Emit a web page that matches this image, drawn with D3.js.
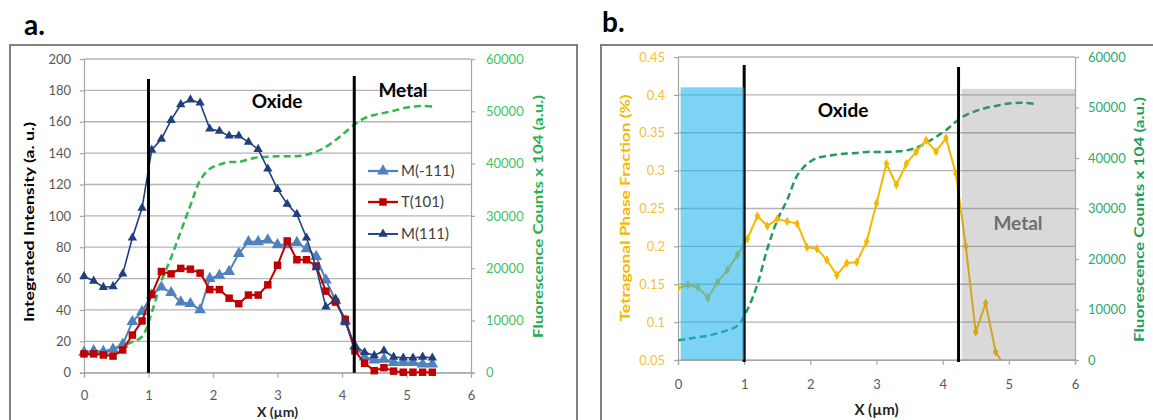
<!DOCTYPE html>
<html><head><meta charset="utf-8">
<script src="https://cdn.jsdelivr.net/npm/d3@7/dist/d3.min.js"></script>
<style>
body{margin:0;background:#fff}
svg{display:block}
text{font-family:Lato,"Open Sans",sans-serif}
</style>
</head><body>
<svg id="c" width="1153" height="420"></svg>
<script>
// ---------- DATA ----------
const xPos = [0,0.15,0.3,0.45,0.6,0.75,0.9,1.05,1.2,1.35,1.5,1.65,1.8,1.95,2.1,2.25,2.4,2.55,2.7,2.85,3.0,3.15,3.3,3.45,3.6,3.75,3.9,4.05,4.2,4.35,4.5,4.65,4.8,4.95,5.1,5.25,5.4];
const m111 = [61.5,58.5,54.5,55,63,86,105,142,149,161,171,174,172,155.5,154,151,151,147,142.5,130,117,107.5,101,86,67,42,47,32,17,13,11,14,10,9.5,9.5,10,9.5];
const mNeg111 = [13,14,13.5,15,18,32.5,39,49.5,54.5,51,45,44,40,60,62,64.5,76,83.5,83.5,84.5,81.5,81.5,83,79,74,59,46,33,17,10,8,8.5,6.5,6.5,6.5,5.5,5.5];
const t101 = [12,12,11.3,10.6,14.5,24,33,50,64.5,63,66.5,66,63.5,53,53,47.5,44,49.5,49.5,56,68.5,84,72,72,68,52,45,34,14,6,1.3,3.2,1,0.3,0.3,0.3,0.3];
const fluorA = [3700,3900,4000,4500,5100,5900,6900,11500,17500,22000,27000,32000,36800,39000,39800,40300,40300,40800,41200,41300,41400,41400,41400,41700,42300,43200,44500,46000,47500,48700,49300,49700,50100,50600,50900,51000,50900];
const fluorB = [3900,4200,4500,4800,5300,5900,6800,10000,15000,22000,27700,31700,36500,38800,40000,40400,40700,40900,41000,41200,41200,41200,41300,41500,42000,43000,44200,45500,47200,48500,49300,49900,50300,50700,50900,50900,50700];
const tetra = [0.145,0.149,0.146,0.132,0.153,0.169,0.189,0.21,0.24,0.227,0.236,0.233,0.23,0.199,0.197,0.182,0.162,0.178,0.179,0.206,0.257,0.309,0.281,0.309,0.325,0.34,0.325,0.343,0.296,0.2,0.087,0.125,0.061,0.04];
const xTicks = [0,1,2,3,4,5,6];
const aLeftTicks = [0,20,40,60,80,100,120,140,160,180,200];
const fluorTicks = [0,10000,20000,30000,40000,50000,60000];
const bLeftTicks = [0.05,0.1,0.15,0.2,0.25,0.3,0.35,0.4,0.45];
const legendNames = ["M(-111)","T(101)","M(111)"];
const boundA = [1, 4.19];
const boundB = [1, 4.24];
const blueZone = [0.04, 1, 0.41];
const grayZone = [4.29, 6, 0.408];

// ---------- SETUP ----------
const svg = d3.select("#c");
const TICK = "#595959", GRID = "#b4b4b4", AXIS = "#a6a6a6";

function styleAxis(g, color){
  g.selectAll("path.domain").attr("stroke", AXIS).attr("stroke-width",1.2);
  g.selectAll(".tick line").attr("stroke", AXIS).attr("stroke-width",1.2);
  g.selectAll(".tick text").attr("fill", color).attr("font-size", 13).attr("font-family","Lato, sans-serif");
}

// panel frames
svg.append("rect").attr("x",10).attr("y",45).attr("width",567).attr("height",400)
  .attr("fill","none").attr("stroke","#808080").attr("stroke-width",2);
svg.append("rect").attr("x",601).attr("y",45).attr("width",600).attr("height",400)
  .attr("fill","none").attr("stroke","#808080").attr("stroke-width",2);
svg.append("text").attr("x",24).attr("y",35).attr("font-size",28).attr("font-weight","bold").text("a.");
svg.append("text").attr("x",602).attr("y",32).attr("font-size",28).attr("font-weight","bold").text("b.");

// ---------- PANEL A ----------
const xA = d3.scaleLinear([0,6],[84,471]);
const yA = d3.scaleLinear([0,200],[372.7,59]);
const yA2 = d3.scaleLinear([0,60000],[372.7,59]);

const gA = svg.append("g");
gA.append("g").selectAll("line").data(aLeftTicks).join("line")
  .attr("x1",xA(0)).attr("x2",xA(6)).attr("y1",d=>yA(d)).attr("y2",d=>yA(d))
  .attr("stroke",GRID).attr("stroke-width",1.3);

gA.append("g").attr("transform",`translate(${xA(0)},0)`)
  .call(d3.axisLeft(yA).tickValues(aLeftTicks).tickSize(4).tickPadding(9)).call(g=>styleAxis(g,TICK));
gA.append("g").attr("transform",`translate(${xA(6)},0)`)
  .call(d3.axisRight(yA2).tickValues(fluorTicks).tickSize(4).tickPadding(11).tickFormat(d3.format("d"))).call(g=>styleAxis(g,"#3ec466"));
gA.append("g").attr("transform",`translate(0,${yA(0)})`)
  .call(d3.axisBottom(xA).tickValues(xTicks).tickSize(5).tickPadding(13).tickFormat(d3.format("d"))).call(g=>styleAxis(g,TICK));

// fluorescence dashed
gA.append("path").datum(xPos.map((x,i)=>[x,fluorA[i]]))
  .attr("d", d3.line().x(d=>xA(d[0])).y(d=>yA2(d[1])).curve(d3.curveCatmullRom))
  .attr("fill","none").attr("stroke","#2fb84e").attr("stroke-width",2.5).attr("stroke-dasharray","7,4");

const tri = d3.symbol().type(d3.symbolTriangle);
const sq = d3.symbol().type(d3.symbolSquare);
const seriesA = [
  {name:legendNames[0], vals:mNeg111, color:"#4f81bd", sym:tri.size(60)(), w:2},
  {name:legendNames[1], vals:t101, color:"#c00000", sym:sq.size(56)(), w:2},
  {name:legendNames[2], vals:m111, color:"#1f3f7f", sym:d3.symbol().type(d3.symbolTriangle).size(38)(), w:1.6}
];
seriesA.forEach(s=>{
  const g = gA.append("g");
  g.append("path").datum(xPos.map((x,i)=>[x,s.vals[i]]))
    .attr("d", d3.line().x(d=>xA(d[0])).y(d=>yA(d[1])))
    .attr("fill","none").attr("stroke",s.color).attr("stroke-width",s.w);
  g.selectAll("path.m").data(xPos.map((x,i)=>[x,s.vals[i]])).join("path").attr("class","m")
    .attr("d",s.sym).attr("transform",d=>`translate(${xA(d[0])},${yA(d[1])})`).attr("fill",s.color);
});

// boundaries
gA.selectAll("line.bd").data(boundA).join("line").attr("class","bd")
  .attr("x1",d=>xA(d)).attr("x2",d=>xA(d)).attr("y1",(d,i)=>i?76:79).attr("y2",yA(0))
  .attr("stroke","#000").attr("stroke-width",3);

// legend
const legY = [171,202,234];
seriesA.forEach((s,i)=>{
  const lg = gA.append("g").attr("transform",`translate(368,${legY[i]})`);
  lg.append("line").attr("x1",0).attr("x2",30).attr("stroke",s.color).attr("stroke-width",s.w+0.3);
  lg.append("path").attr("d",s.sym).attr("transform","translate(15,0)").attr("fill",s.color);
  lg.append("text").attr("x",33).attr("y",5).attr("font-size",15).attr("fill","#404040").text(s.name);
});

gA.append("text").attr("x",277).attr("y",108).attr("text-anchor","middle").attr("font-size",19).attr("font-weight","bold").text("Oxide");
gA.append("text").attr("x",403).attr("y",97).attr("text-anchor","middle").attr("font-size",19).attr("font-weight","bold").text("Metal");

gA.append("text").attr("transform","translate(34,222) rotate(-90)").attr("text-anchor","middle")
  .attr("font-size",13).attr("font-weight","bold").attr("fill","#000").attr("textLength",200).attr("lengthAdjust","spacingAndGlyphs")
  .text("Integrated Intensity (a. u.)");
gA.append("text").attr("transform","translate(543,216.5) rotate(-90)").attr("text-anchor","middle")
  .attr("font-size",14).attr("font-weight","bold").attr("fill","#1fb050").attr("textLength",243).attr("lengthAdjust","spacingAndGlyphs")
  .text("Fluorescence Counts x 104 (a.u.)");
gA.append("text").attr("x",xA(3)).attr("y",417).attr("text-anchor","middle").attr("font-size",14).attr("font-weight","bold").attr("fill","#262626").text("X (µm)");

// ---------- PANEL B ----------
const xB = d3.scaleLinear([0,6],[678,1075]);
const yB = d3.scaleLinear([0.05,0.45],[360,57]);
const yB2 = d3.scaleLinear([0,60000],[360,57]);
const gB = svg.append("g");
svg.append("clipPath").attr("id","clipB").append("rect")
  .attr("x",xB(0)).attr("y",yB(0.45)).attr("width",xB(6)-xB(0)).attr("height",yB(0.05)-yB(0.45));

gB.append("g").selectAll("line").data(bLeftTicks).join("line")
  .attr("x1",xB(0)).attr("x2",xB(6)).attr("y1",d=>yB(d)).attr("y2",d=>yB(d))
  .attr("stroke",GRID).attr("stroke-width",1.3);

gB.append("g").attr("transform",`translate(${xB(0)},0)`)
  .call(d3.axisLeft(yB).tickValues(bLeftTicks).tickSize(4).tickPadding(9).tickFormat(d=>String(+d.toFixed(2)))).call(g=>styleAxis(g,"#f3c13a"));
gB.append("g").attr("transform",`translate(${xB(6)},0)`)
  .call(d3.axisRight(yB2).tickValues(fluorTicks).tickSize(4).tickPadding(9).tickFormat(d3.format("d"))).call(g=>styleAxis(g,"#2eab6c"));
gB.append("g").attr("transform",`translate(0,${yB(0.05)})`)
  .call(d3.axisBottom(xB).tickValues(xTicks).tickSize(5).tickPadding(15).tickFormat(d3.format("d"))).call(g=>styleAxis(g,TICK));

const plotB = gB.append("g").attr("clip-path","url(#clipB)");
plotB.append("path").datum(xPos.map((x,i)=>[x,fluorB[i]]))
  .attr("d", d3.line().x(d=>xB(d[0])).y(d=>yB2(d[1])).curve(d3.curveCatmullRom))
  .attr("fill","none").attr("stroke","#1f9d5a").attr("stroke-width",2.5).attr("stroke-dasharray","7,4");
const tData = tetra.map((v,i)=>[xPos[i],v]);
plotB.append("path").datum(tData)
  .attr("d", d3.line().x(d=>xB(d[0])).y(d=>yB(d[1])))
  .attr("fill","none").attr("stroke","#f5b800").attr("stroke-width",2);
plotB.selectAll("path.m").data(tData).join("path").attr("class","m")
  .attr("d",d3.symbol().type(d3.symbolDiamond).size(26)()).attr("transform",d=>`translate(${xB(d[0])},${yB(d[1])})`).attr("fill","#f5b800");

gB.selectAll("line.bd").data(boundB).join("line").attr("class","bd")
  .attr("x1",d=>xB(d)).attr("x2",d=>xB(d)).attr("y1",(d,i)=>i?67:65).attr("y2",362)
  .attr("stroke","#000").attr("stroke-width",3);

// zones (semi-transparent overlays)
gB.append("rect").attr("x",xB(blueZone[0])).attr("y",yB(blueZone[2]))
  .attr("width",xB(blueZone[1])-xB(blueZone[0])).attr("height",yB(0.05)-yB(blueZone[2]))
  .attr("fill","rgb(30,180,235)").attr("fill-opacity",0.58);
gB.append("rect").attr("x",xB(grayZone[0])).attr("y",yB(grayZone[2]))
  .attr("width",xB(grayZone[1])-xB(grayZone[0])).attr("height",yB(0.05)-yB(grayZone[2]))
  .attr("fill","rgb(120,120,120)").attr("fill-opacity",0.28);

gB.append("text").attr("x",843).attr("y",117).attr("text-anchor","middle").attr("font-size",19).attr("font-weight","bold").text("Oxide");
gB.append("text").attr("x",1018).attr("y",230).attr("text-anchor","middle").attr("font-size",19).attr("font-weight","bold").attr("fill","#6e6e6e").text("Metal");

gB.append("text").attr("transform","translate(630,208) rotate(-90)").attr("text-anchor","middle")
  .attr("font-size",13).attr("font-weight","bold").attr("fill","#f5b800").attr("textLength",227).attr("lengthAdjust","spacingAndGlyphs")
  .text("Tetragonal Phase Fraction (%)");
gB.append("text").attr("transform","translate(1144,219.5) rotate(-90)").attr("text-anchor","middle")
  .attr("font-size",14).attr("font-weight","bold").attr("fill","#1f9d5a").attr("textLength",245).attr("lengthAdjust","spacingAndGlyphs")
  .text("Fluorescence Counts x 104 (a.u.)");
gB.append("text").attr("x",xB(3)).attr("y",415).attr("text-anchor","middle").attr("font-size",15).attr("font-weight","bold").attr("fill","#262626").text("X (µm)");
</script>
</body></html>
